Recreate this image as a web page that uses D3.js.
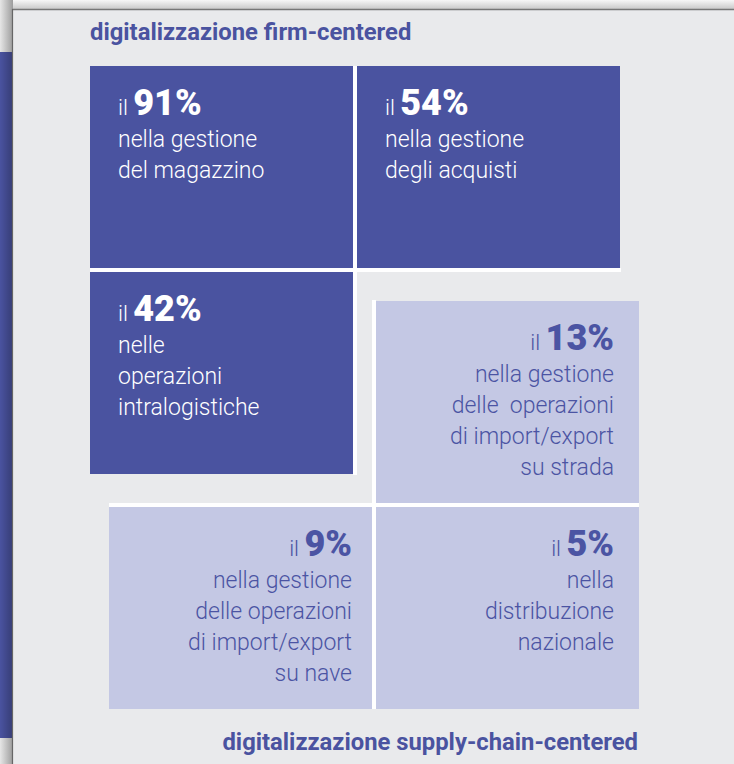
<!DOCTYPE html>
<html>
<head>
<meta charset="utf-8">
<script src="https://cdn.jsdelivr.net/npm/d3@7"></script>
<style>
  body { margin: 0; background: #e9eaec; }
  svg { display: block; font-family: Roboto, "Noto Sans", sans-serif; }
  text { white-space: pre; }
</style>
</head>
<body>
<div id="chart"></div>
<script>
// values
const percentages = [91, 54, 42, 13, 9, 5];
const descriptions = [
  ["nella gestione", "del magazzino"],
  ["nella gestione", "degli acquisti"],
  ["nelle", "operazioni", "intralogistiche"],
  ["nella gestione", "delle  operazioni", "di import/export", "su strada"],
  ["nella gestione", "delle operazioni", "di import/export", "su nave"],
  ["nella", "distribuzione", "nazionale"]
];
const groups = ["firm", "firm", "firm", "supply", "supply", "supply"];
const groupTitles = ["digitalizzazione firm-centered", "digitalizzazione supply-chain-centered"];

const W = 734, H = 764;
const dark = "#4a53a0", light = "#c4c8e4", lightText = "#4b54a3", panelBg = "#e9eaec";

const svg = d3.select("#chart").append("svg")
  .attr("width", W).attr("height", H);

const defs = svg.append("defs");
const topShade = defs.append("linearGradient").attr("id", "topShade")
  .attr("x1", 0).attr("y1", 0).attr("x2", 0).attr("y2", 1);
topShade.append("stop").attr("offset", 0).attr("stop-color", "#f7f7f7");
topShade.append("stop").attr("offset", 1).attr("stop-color", "#c4c4c4");
const leftShade = defs.append("linearGradient").attr("id", "leftShade");
leftShade.append("stop").attr("offset", 0).attr("stop-color", "#e6e6e6");
leftShade.append("stop").attr("offset", 1).attr("stop-color", "#9c9c9c");
const leftDark = defs.append("linearGradient").attr("id", "leftDark");
leftDark.append("stop").attr("offset", 0).attr("stop-color", "#000").attr("stop-opacity", 0);
leftDark.append("stop").attr("offset", 1).attr("stop-color", "#000").attr("stop-opacity", 0.25);

// frame / page shadow
svg.append("rect").attr("width", W).attr("height", 10).attr("fill", "url(#topShade)");
svg.append("rect").attr("width", 13).attr("height", H).attr("fill", "url(#leftShade)");
svg.append("rect").attr("y", 52).attr("width", 12).attr("height", 686).attr("fill", dark);
svg.append("rect").attr("y", 52).attr("width", 12).attr("height", 686).attr("fill", "url(#leftDark)");
svg.append("rect").attr("x", 13).attr("y", 10).attr("width", W - 13).attr("height", H - 10).attr("fill", panelBg);
svg.append("line").attr("x1", 12).attr("x2", W).attr("y1", 9.5).attr("y2", 9.5)
  .attr("stroke", "#777").attr("stroke-width", 1.5);
svg.append("line").attr("x1", 12.5).attr("x2", 12.5).attr("y1", 9).attr("y2", H)
  .attr("stroke", "#666").attr("stroke-width", 1.2);

// grid scales: 2 columns, 3 rows
const tileW = 263, tileH = 202, gap = 4;
const x = d3.scaleLinear().domain([0, 1]).range([90, 90 + tileW + gap]);
const y = d3.scaleLinear().domain([0, 1]).range([66, 66 + tileH + gap]);
const offset = { firm: [0, 0], supply: [19, 29] };

const tiles = percentages.map((v, i) => {
  const g = groups[i];
  const col = i % 2, row = Math.floor(i / 2);
  return {
    value: v, lines: descriptions[i], group: g,
    x0: x(col) + offset[g][0], y0: y(row) + offset[g][1]
  };
});

// white separators between tiles, derived from the grid
const sep = svg.append("g").attr("fill", "#fff");
// dark group
sep.append("rect").attr("x", x(1) - gap).attr("y", y(0)).attr("width", gap).attr("height", y(2) - gap - y(0) + 1);
sep.append("rect").attr("x", x(0)).attr("y", y(1) - gap).attr("width", x(2) - gap - x(0) + 1).attr("height", gap);
// light group
const lo = offset.supply;
sep.append("rect").attr("x", x(1) + lo[0] - gap).attr("y", y(1) + lo[1] - 1).attr("width", gap).attr("height", y(3) - y(1) - gap + 1);
sep.append("rect").attr("x", x(0) + lo[0]).attr("y", y(2) + lo[1] - gap).attr("width", x(2) - x(0) - gap).attr("height", gap);

const tileG = svg.append("g").selectAll("g").data(tiles).join("g")
  .attr("transform", d => `translate(${d.x0},${d.y0})`);

tileG.append("rect")
  .attr("width", tileW).attr("height", tileH)
  .attr("fill", d => d.group === "firm" ? dark : light);

const label = tileG.append("text")
  .attr("fill", d => d.group === "firm" ? "#fff" : lightText)
  .attr("text-anchor", d => d.group === "firm" ? "start" : "end")
  .attr("x", (d, i) => d.group === "firm" ? 28 : (i === 4 ? tileW - 20 : tileW - 25));

label.append("tspan").attr("y", 49)
  .attr("font-size", 22).attr("font-weight", 300).text("il ");
label.append("tspan")
  .attr("font-size", 36).attr("font-weight", 900).text(d => d.value + "%");

label.each(function(d) {
  const t = d3.select(this);
  d.lines.forEach((ln, k) => {
    t.append("tspan")
      .attr("x", t.attr("x"))
      .attr("y", 81 + k * 31)
      .attr("font-size", 23).attr("font-weight", 300)
      .text(ln);
  });
});

// group titles
svg.append("text").attr("x", 90).attr("y", 40)
  .attr("fill", dark).attr("font-size", 23.8).attr("font-weight", 700)
  .text(groupTitles[0]);
svg.append("text").attr("x", 638).attr("y", 750).attr("text-anchor", "end")
  .attr("fill", dark).attr("font-size", 23.8).attr("font-weight", 700)
  .text(groupTitles[1]);
</script>
</body>
</html>
